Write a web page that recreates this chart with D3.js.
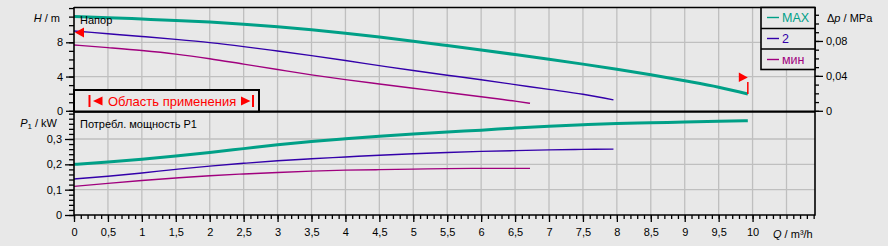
<!DOCTYPE html>
<html>
<head>
<meta charset="utf-8">
<script src="https://cdn.jsdelivr.net/npm/d3@7"></script>
<style>
body { margin: 0; background: #e8e8e8; }
svg { display: block; font-family: "Liberation Sans", Arial, sans-serif; }
</style>
</head>
<body>
<svg id="chart" width="888" height="246"></svg>
<script>
// pump curves
var qMax = [0, 0.5, 1, 1.5, 2, 2.5, 3, 3.5, 4, 4.5, 5, 5.5, 6, 6.5, 7, 7.5, 8, 8.5, 9, 9.5, 9.93];
var hMax = [11.0, 10.88, 10.72, 10.55, 10.36, 10.12, 9.83, 9.47, 9.07, 8.62, 8.13, 7.62, 7.1, 6.57, 6.02, 5.45, 4.85, 4.2, 3.5, 2.75, 1.96];
var pMax = [0.200, 0.209, 0.220, 0.233, 0.247, 0.262, 0.277, 0.290, 0.301, 0.311, 0.320, 0.328, 0.335, 0.343, 0.350, 0.356, 0.361, 0.364, 0.367, 0.370, 0.372];

var q2 = [0, 0.5, 1, 1.5, 2, 2.5, 3, 3.5, 4, 4.5, 5, 5.5, 6, 6.5, 7, 7.5, 7.95];
var h2 = [9.32, 9.0, 8.68, 8.34, 7.96, 7.5, 6.98, 6.44, 5.87, 5.28, 4.7, 4.16, 3.62, 3.06, 2.5, 1.93, 1.27];
var p2 = [0.142, 0.153, 0.166, 0.180, 0.193, 0.204, 0.214, 0.222, 0.229, 0.236, 0.242, 0.247, 0.251, 0.254, 0.257, 0.259, 0.260];

var qMin = [0, 0.5, 1, 1.5, 2, 2.5, 3, 3.5, 4, 4.5, 5, 5.5, 6, 6.5, 6.72];
var hMin = [7.69, 7.38, 7.04, 6.62, 6.08, 5.45, 4.82, 4.2, 3.64, 3.13, 2.63, 2.14, 1.64, 1.13, 0.88];
var pMin = [0.113, 0.125, 0.136, 0.146, 0.155, 0.162, 0.168, 0.173, 0.177, 0.179, 0.181, 0.183, 0.184, 0.184, 0.184];

var seriesNames = ["MAX", "2", "мин"];
var seriesColors = ["#00a087", "#3300aa", "#a0007e"];

var qTicks = d3.range(0, 10.01, 0.5);
var hTicks = [0, 4, 8];
var pTicks = [0, 0.1, 0.2, 0.3];
var dpTicks = [0, 0.04, 0.08];

var svg = d3.select("#chart");
var fmt = d3.formatLocale({decimal: ",", thousands: " ", grouping: [3], currency: ["", ""]}).format("~g");

var left = 74, right = 815;
var x = d3.scaleLinear().domain([0, 10.92]).range([left, right]);
var yH = d3.scaleLinear().domain([0, 12.1]).range([110.8, 7.2]);
var yDp = d3.scaleLinear().domain([0, 12.1 / 101.97]).range([110.8, 7.2]);
var yP = d3.scaleLinear().domain([0, 0.405]).range([215, 112.4]);

var series = [
	{name: seriesNames[0], color: seriesColors[0], w: 3, q: qMax, h: hMax, p: pMax},
	{name: seriesNames[1], color: seriesColors[1], w: 1.4, q: q2, h: h2, p: p2},
	{name: seriesNames[2], color: seriesColors[2], w: 1.4, q: qMin, h: hMin, p: pMin}
];

// grid
var grid = svg.append("g").attr("stroke", "#bfbfbf").attr("stroke-width", 1.3);
grid.selectAll(".vg").data(d3.range(0.5, 10.6, 0.5)).enter().append("line")
	.attr("x1", function(d) { return x(d); }).attr("x2", function(d) { return x(d); })
	.attr("y1", 7).attr("y2", 215);
grid.selectAll(".hg").data([4, 8]).enter().append("line")
	.attr("x1", left).attr("x2", right)
	.attr("y1", function(d) { return yH(d); }).attr("y2", function(d) { return yH(d); });
grid.selectAll(".pg").data([0.1, 0.2, 0.3]).enter().append("line")
	.attr("x1", left).attr("x2", right)
	.attr("y1", function(d) { return yP(d); }).attr("y2", function(d) { return yP(d); });

// curves
var lineH = function(s) {
	return d3.line().curve(d3.curveMonotoneX)
		.x(function(d, i) { return x(s.q[i]); })
		.y(function(d) { return yH(d); })(s.h);
};
var lineP = function(s) {
	return d3.line().curve(d3.curveMonotoneX)
		.x(function(d, i) { return x(s.q[i]); })
		.y(function(d) { return yP(d); })(s.p);
};
var curves = svg.append("g").attr("fill", "none");
series.slice().reverse().forEach(function(s) {
	curves.append("path").attr("d", lineH(s)).attr("stroke", s.color).attr("stroke-width", s.w);
	curves.append("path").attr("d", lineP(s)).attr("stroke", s.color).attr("stroke-width", s.w);
});

// frame
var frame = svg.append("g").attr("stroke", "#000");
frame.append("line").attr("x1", left).attr("x2", right).attr("y1", 7.5).attr("y2", 7.5).attr("stroke-width", 1.6);
frame.append("line").attr("x1", left).attr("x2", right).attr("y1", 111.6).attr("y2", 111.6).attr("stroke-width", 2.4);
frame.append("line").attr("x1", left).attr("x2", right).attr("y1", 215).attr("y2", 215).attr("stroke-width", 1.6);
frame.append("line").attr("x1", left).attr("x2", left).attr("y1", 7).attr("y2", 215.8).attr("stroke-width", 1.6);
frame.append("line").attr("x1", right).attr("x2", right).attr("y1", 7).attr("y2", 215.8).attr("stroke-width", 1.6);

// axes
function styleAxis(g) {
	g.select(".domain").remove();
	g.selectAll("line").attr("stroke", "#000").attr("stroke-width", 1.3);
	g.selectAll("text").attr("font-size", 11).attr("fill", "#000")
		.attr("font-family", "'Liberation Sans', Arial, sans-serif");
}
svg.append("g").attr("transform", "translate(" + left + ",0)")
	.call(d3.axisLeft(yH).tickValues(d3.range(0, 12.01, 1)).tickSize(5).tickFormat(""))
	.call(styleAxis);
svg.append("g").attr("transform", "translate(" + left + ",0)")
	.call(d3.axisLeft(yH).tickValues(hTicks).tickSize(8).tickPadding(3).tickFormat(fmt))
	.call(styleAxis);
svg.append("g").attr("transform", "translate(" + left + ",0)")
	.call(d3.axisLeft(yP).tickValues(d3.range(0, 0.401, 0.02)).tickSize(5).tickFormat(""))
	.call(styleAxis);
svg.append("g").attr("transform", "translate(" + left + ",0)")
	.call(d3.axisLeft(yP).tickValues(pTicks).tickSize(9).tickPadding(3).tickFormat(fmt))
	.call(styleAxis);
svg.append("g").attr("transform", "translate(" + right + ",0)")
	.call(d3.axisRight(yDp).tickValues(d3.range(0, 0.1101, 0.01)).tickSize(4).tickFormat(""))
	.call(styleAxis);
svg.append("g").attr("transform", "translate(" + right + ",0)")
	.call(d3.axisRight(yDp).tickValues(dpTicks).tickSize(8).tickPadding(3).tickFormat(fmt))
	.call(styleAxis);
svg.append("g").attr("transform", "translate(0,215)")
	.call(d3.axisBottom(x).tickValues(d3.range(0, 10.91, 0.1)).tickSize(4).tickFormat(""))
	.call(styleAxis);
svg.append("g").attr("transform", "translate(0,215)")
	.call(d3.axisBottom(x).tickValues(qTicks).tickSize(7).tickPadding(6).tickFormat(fmt))
	.call(styleAxis);

// axis titles
var t = svg.append("g").attr("font-size", 11).attr("fill", "#000");
var th = t.append("text").attr("x", 60).attr("y", 22).attr("text-anchor", "end");
th.append("tspan").attr("font-style", "italic").text("H");
th.append("tspan").text(" / m");
var tp = t.append("text").attr("x", 57).attr("y", 127).attr("text-anchor", "end");
tp.append("tspan").attr("font-style", "italic").text("P");
tp.append("tspan").attr("font-size", 8).attr("dy", 2).text("1");
tp.append("tspan").attr("dy", -2).text(" / kW");
var td = t.append("text").attr("x", 827).attr("y", 22);
td.append("tspan").text("Δ");
td.append("tspan").attr("font-style", "italic").text("p");
td.append("tspan").text(" / MPa");
var tq = t.append("text").attr("x", 773).attr("y", 237.5);
tq.append("tspan").attr("font-style", "italic").text("Q");
tq.append("tspan").text(" / m³/h");
t.append("text").attr("x", 80).attr("y", 24).text("Напор");
t.append("text").attr("x", 80).attr("y", 128).text("Потребл. мощность P1");

// operating range box
var box = svg.append("g");
box.append("rect").attr("x", left).attr("y", 90).attr("width", 259 - left).attr("height", 21.5)
	.attr("fill", "#e8e8e8").attr("stroke", "#000").attr("stroke-width", 2);
box.append("rect").attr("x", 88.5).attr("y", 95).attr("width", 2).attr("height", 12).attr("fill", "#f00");
box.append("path").attr("d", "M93,101 L102.5,96.5 L102.5,105.5 Z").attr("fill", "#f00");
box.append("path").attr("d", "M241,96.5 L250.5,101 L241,105.5 Z").attr("fill", "#f00");
box.append("rect").attr("x", 252).attr("y", 95).attr("width", 2).attr("height", 12).attr("fill", "#f00");
box.append("text").attr("x", 108).attr("y", 105.5).attr("font-size", 13).attr("fill", "#f00")
	.text("Область применения");

// range markers on the curves
var mL = { x: x(q2[0]), y: yH(h2[0]) };
svg.append("path").attr("fill", "#f00")
	.attr("d", "M" + (mL.x + 1) + "," + (mL.y + 1.5) + " l9,-5 l0,10 Z");
var mR = { x: x(qMax[qMax.length - 1]), y: yH(hMax[hMax.length - 1]) };
svg.append("line").attr("x1", mR.x).attr("x2", mR.x).attr("y1", mR.y).attr("y2", mR.y - 12)
	.attr("stroke", "#f00").attr("stroke-width", 1.5);
svg.append("path").attr("fill", "#f00")
	.attr("d", "M" + (mR.x - 9) + "," + (mR.y - 21.5) + " l0,9.5 l9,-4.5 Z");

// legend
var lg = svg.append("g");
lg.append("rect").attr("x", 761).attr("y", 7.5).attr("width", right - 761).attr("height", 62)
	.attr("fill", "#e8e8e8").attr("stroke", "#000").attr("stroke-width", 1.6);
[28.5, 49].forEach(function(yy) {
	lg.append("line").attr("x1", 761).attr("x2", right).attr("y1", yy).attr("y2", yy)
		.attr("stroke", "#000").attr("stroke-width", 1.6);
});
series.forEach(function(s, i) {
	var cy = 17.5 + i * 21;
	lg.append("line").attr("x1", 767).attr("x2", 779).attr("y1", cy).attr("y2", cy)
		.attr("stroke", s.color).attr("stroke-width", 1.4);
	lg.append("text").attr("x", 782).attr("y", cy + 4.5).attr("font-size", 12.5)
		.attr("fill", s.color).text(s.name);
});
</script>
</body>
</html>
